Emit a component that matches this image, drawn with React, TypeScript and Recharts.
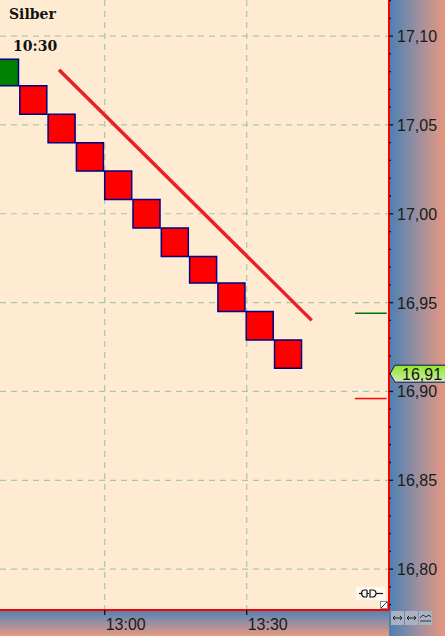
import React from 'react'
import {
  ComposedChart,
  Bar,
  Cell,
  XAxis,
  YAxis,
  CartesianGrid,
  ReferenceLine,
  ReferenceDot,
} from 'recharts'

// renko bricks, left to right (first one is cut off at the left edge)
const brickIndex = [0, 1, 2, 3, 4, 5, 6, 7, 8, 9, 10]
const brickLow = [17.072, 17.056, 17.04, 17.024, 17.008, 16.992, 16.976, 16.961, 16.945, 16.929, 16.913]
const brickHigh = [17.087, 17.072, 17.056, 17.04, 17.024, 17.008, 16.992, 16.976, 16.961, 16.945, 16.929]
const brickUp = [true, false, false, false, false, false, false, false, false, false, false]

const timeTicks = [3.536, 8.553]
const timeLabels = ['13:00', '13:30']
const priceTicks = [16.8, 16.85, 16.9, 16.95, 17.0, 17.05, 17.1]

const trendLine = [
  { x: 1.92, y: 17.081 },
  { x: 10.85, y: 16.94 },
]
const lastPrice = 16.91
const nextUpLevel = 16.944
const nextDownLevel = 16.896

const X_DOMAIN: [number, number] = [-0.164, 13.58]
const Y_DOMAIN: [number, number] = [16.777, 17.1203]

// minor ticks every 0.01 on the price scale
const minorTicks = Array.from({ length: 35 }, (_, i) => Math.round((16.78 + i * 0.01) * 100) / 100)

const data = brickIndex.map((i, k) => ({
  i,
  range: [brickLow[k], brickHigh[k]],
  up: brickUp[k],
}))

const fmt = (v: number) => v.toFixed(2).replace('.', ',')

const PriceTick = (props: any) => {
  const { x, y, payload } = props
  const v = payload.value as number
  const major = priceTicks.some((t) => Math.abs(t - v) < 1e-6)
  return (
    <g>
      <line x1={x} x2={x + (major ? 4 : 2)} y1={y} y2={y} stroke="#111" strokeWidth={1.3} />
      {major && (
        <text x={x + 8} y={y + 6} fill="#1a1a1a" fontSize={16} fontFamily="Liberation Sans, Arial">
          {fmt(v)}
        </text>
      )}
    </g>
  )
}

const TimeTick = (props: any) => {
  const { x, y, payload } = props
  const idx = timeTicks.indexOf(payload.value)
  return (
    <g>
      <line x1={x} x2={x} y1={y} y2={y + 5} stroke="#111" strokeWidth={1.3} />
      <text x={x + 1} y={y + 20} fill="#1a1a1a" fontSize={16} fontFamily="Liberation Sans, Arial">
        {timeLabels[idx]}
      </text>
    </g>
  )
}

const PriceBadge = (props: any) => {
  const { cx, cy } = props
  const x = cx + 1
  return (
    <g>
      <polygon
        points={`${x},${cy} ${x + 5},${cy - 8.5} ${x + 56},${cy - 8.5} ${x + 56},${cy + 8.5} ${x + 5},${cy + 8.5}`}
        fill="url(#badgeFill)"
        stroke="#101060"
        strokeWidth={1}
      />
      <text x={x + 12} y={cy + 6} fill="#111" fontSize={16} fontFamily="Liberation Sans, Arial">
        {fmt(lastPrice)}
      </text>
    </g>
  )
}

export default function App() {
  return (
    <div style={{ position: 'absolute', left: 0, top: 0, width: 445, height: 636, overflow: 'hidden' }}>
      <div style={{ position: 'absolute', left: 0, top: 0, width: 389, height: 610, background: '#FEEBD1' }} />
      <div
        style={{
          position: 'absolute',
          left: 389,
          top: 0,
          width: 56,
          height: 636,
          background: 'linear-gradient(to right, #4A80B4, #9A8FA0 50%, #E6977F)',
        }}
      />
      <div
        style={{
          position: 'absolute',
          left: 0,
          top: 610,
          width: 389,
          height: 26,
          background: 'linear-gradient(to bottom, #4E82B3, #9A8FA0 50%, #E89A80)',
        }}
      />
      <div style={{ position: 'absolute', left: 0, top: 0 }}>
        <ComposedChart width={445} height={636} data={data} margin={{ top: 0, right: 0, left: 0, bottom: 0 }}>
          <defs>
            <linearGradient id="badgeFill" x1="0" y1="0" x2="0" y2="1">
              <stop offset="0%" stopColor="#8CEB22" />
              <stop offset="100%" stopColor="#D2E6B4" />
            </linearGradient>
          </defs>
          <CartesianGrid
            stroke="#A9C6B3"
            strokeDasharray="6 5"
            strokeWidth={1.2}
            horizontalValues={priceTicks}
            verticalValues={timeTicks}
          />
          <XAxis
            type="number"
            dataKey="i"
            domain={X_DOMAIN}
            allowDataOverflow
            ticks={timeTicks}
            interval={0}
            height={26}
            tickSize={0}
            tickMargin={0}
            tick={<TimeTick />}
            axisLine={{ stroke: '#FF0000', strokeWidth: 2 }}
            tickLine={false}
          />
          <YAxis
            type="number"
            orientation="right"
            domain={Y_DOMAIN}
            allowDataOverflow
            ticks={minorTicks}
            interval={0}
            width={56}
            tickSize={0}
            tickMargin={0}
            tick={<PriceTick />}
            axisLine={{ stroke: '#FF0000', strokeWidth: 2 }}
            tickLine={false}
          />
          <Bar dataKey="range" barSize={27} stroke="#000080" strokeWidth={1.5} isAnimationActive={false}>
            {data.map((d) => (
              <Cell key={d.i} fill={d.up ? '#008000' : '#FF0000'} />
            ))}
          </Bar>
          <ReferenceLine
            segment={trendLine}
            stroke="#E8202A"
            strokeWidth={3.5}
            ifOverflow="visible"
          />
          <ReferenceLine
            segment={[
              { x: 12.38, y: nextUpLevel },
              { x: 13.5, y: nextUpLevel },
            ]}
            stroke="#007000"
            strokeWidth={1.5}
            ifOverflow="visible"
          />
          <ReferenceLine
            segment={[
              { x: 12.38, y: nextDownLevel },
              { x: 13.5, y: nextDownLevel },
            ]}
            stroke="#FF0000"
            strokeWidth={1.5}
            ifOverflow="visible"
          />
          <ReferenceDot x={X_DOMAIN[1]} y={lastPrice} ifOverflow="visible" shape={<PriceBadge />} />
        </ComposedChart>
      </div>
      <svg
        width={445}
        height={636}
        style={{ position: 'absolute', left: 0, top: 0, pointerEvents: 'none' }}
      >
        <text x={9} y={18.5} fontSize={14} fontWeight="bold" fontFamily="DejaVu Serif" fill="#111">
          Silber
        </text>
        <text x={13} y={51} fontSize={14} fontWeight="bold" fontFamily="DejaVu Serif" fill="#111">
          10:30
        </text>
        {/* plug icon */}
        <rect x={356} y={587} width={29} height={13} fill="#FFF8F0" />
        <g stroke="#111" strokeWidth={1.2} fill="none">
          <line x1={359} x2={362.5} y1={593.5} y2={593.5} />
          <path d="M367,590 h-2 a3.5,3.5 0 0 0 0,7 h2" />
          <line x1={367} x2={367} y1={590} y2={597} />
          <line x1={367} x2={369} y1={593.5} y2={593.5} />
          <path d="M370,590 h2.5 a3.5,3.5 0 0 1 0,7 h-2.5 z" />
          <line x1={376} x2={383} y1={593.5} y2={593.5} />
        </g>
        {/* resize corner */}
        <rect x={380.5} y={601.5} width={7} height={7} fill="#fff" stroke="#888" />
        <line x1={381} x2={387} y1={608} y2={602} stroke="#333" />
        {/* bottom right buttons */}
        {[391, 405, 419].map((bx, k) => (
          <g key={bx}>
            <rect x={bx} y={611} width={13} height={14} fill="#A9B2C4" />
            {k < 2 ? (
              <g stroke="#222" strokeWidth={1}>
                <line x1={bx + 2} x2={bx + 11} y1={618} y2={618} />
                <path d={`M${bx + 4},616 l-2,2 l2,2 M${bx + 9},616 l2,2 l-2,2`} fill="none" />
              </g>
            ) : (
              <g stroke="#333" strokeWidth={1} fill="none">
                <path d={`M${bx + 1},618 l3,-3 l3,2 l3,-2 l2,2`} />
                <line x1={bx + 1} x2={bx + 12} y1={621} y2={621} />
              </g>
            )}
          </g>
        ))}
      </svg>
    </div>
  )
}
